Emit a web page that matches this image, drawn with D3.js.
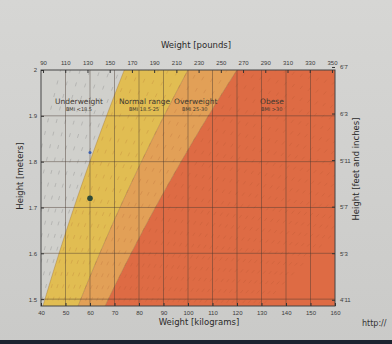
<!DOCTYPE html>
<html><head><meta charset="utf-8">
<script src="https://cdn.jsdelivr.net/npm/d3@7"></script>
<style>
html,body{margin:0;padding:0;background:#cfcfcd;}
svg{display:block;font-family:"DejaVu Sans",sans-serif;}
</style></head>
<body><svg id="c" width="392" height="344"></svg>
<script>
// ---- data ----
const categories = ["Underweight","Normal range","Overweight","Obese"];
const bandText = ["BMI <18.5","BMI 18.5-25","BMI 25-30","BMI >30"];
const bmiBounds = [0, 18.5, 25, 30, 200];
const bandColors = ["#d0d0cc","#e1bd52","#e2a057","#de6b44"];
const kgTicks = [40,50,60,70,80,90,100,110,120,130,140,150,160];
const lbTicks = [90,110,130,150,170,190,210,230,250,270,290,310,330,350];
const mTicks = [1.5,1.6,1.7,1.8,1.9,2];
const mLabels = ["1.5","1.6","1.7","1.8","1.9","2"];
const inchTicks = [59,63,67,71,75,79];
const inchLabels = ["4'11","5'3","5'7","5'11","6'3","6'7"];
const isoBmi = d3.range(12, 60, 1);
const people = [{kg:60,h:1.82,r:1.5,c:"#3a5fb0"},{kg:60,h:1.72,r:2.8,c:"#2f4a38"}];
const labelAnchorKg = [55.5, 71.8, 94.3, 129.4];

// ---- layout ----
const svg = d3.select("#c");
const L=41,R=335,T=70,B=306;
const x = d3.scaleLinear([40,160],[L,R]);
const y = d3.scaleLinear([1.485,2.0],[B,T]);
const xlb = d3.scaleLinear([40/0.453592,160/0.453592],[L,R]);

const defs = svg.append("defs");
const g0 = defs.append("linearGradient").attr("id","bg").attr("x1",0).attr("y1",0).attr("x2",0).attr("y2",1);
g0.append("stop").attr("offset","0%").attr("stop-color","#d6d6d4");
g0.append("stop").attr("offset","100%").attr("stop-color","#cacac8");
svg.append("rect").attr("width",392).attr("height",344).attr("fill","url(#bg)");
svg.append("rect").attr("x",0).attr("y",340).attr("width",392).attr("height",4).attr("fill","#1c2430");

defs.append("clipPath").attr("id","clip").append("rect")
  .attr("x",L).attr("y",T).attr("width",R-L).attr("height",B-T);

const plot = svg.append("g").attr("clip-path","url(#clip)");
const hs = d3.range(1.47, 2.011, 0.005);

bmiBounds.slice(0,-1).forEach((lo,i)=>{
  const hi = bmiBounds[i+1];
  const area = d3.area().y(h=>y(h))
    .x0(h=>x(lo*h*h)).x1(h=>x(Math.min(hi*h*h,170)));
  plot.append("path").datum(hs).attr("d",area).attr("fill",bandColors[i]);
});

// BMI iso-lines (dashed)
isoBmi.forEach(b=>{
  const line = d3.line().x(h=>x(b*h*h)).y(h=>y(h));
  plot.append("path").datum(hs).attr("d",line).attr("fill","none")
    .attr("stroke", b<18.5 ? "#8a8a88" : "#9a4a2a").attr("stroke-opacity", b<18.5?0.55:0.25)
    .attr("stroke-width",0.7).attr("stroke-dasharray","4,9");
});

// band boundary lines
[18.5,25,30].forEach(b=>{
  plot.append("path").datum(hs).attr("d",d3.line().x(h=>x(b*h*h)).y(h=>y(h)))
    .attr("fill","none").attr("stroke","#9a6a2a").attr("stroke-opacity",0.45).attr("stroke-width",0.8);
});

// grid
plot.selectAll(".vg").data(kgTicks.slice(1,-1)).enter().append("line")
  .attr("x1",d=>x(d)).attr("x2",d=>x(d)).attr("y1",T).attr("y2",B)
  .attr("stroke","#4a3a30").attr("stroke-opacity",0.45).attr("stroke-width",1);
plot.selectAll(".hg").data(mTicks.slice(0,-1)).enter().append("line")
  .attr("y1",d=>y(d)).attr("y2",d=>y(d)).attr("x1",L).attr("x2",R)
  .attr("stroke","#4a3a30").attr("stroke-opacity",0.45).attr("stroke-width",1);

// frame
svg.append("rect").attr("x",L).attr("y",T).attr("width",R-L).attr("height",B-T)
  .attr("fill","none").attr("stroke","#444").attr("stroke-width",1);

// people
svg.selectAll(".pt").data(people).enter().append("circle")
  .attr("cx",d=>x(d.kg)).attr("cy",d=>y(d.h)).attr("r",d=>d.r).attr("fill",d=>d.c);

// axes
const fs = "6px", tc = "#3a3a3a";
const axB = svg.append("g").attr("transform",`translate(0,${B})`)
  .call(d3.axisBottom(x).tickValues(kgTicks).tickFormat(d3.format("d")).tickSize(-3).tickPadding(5));
const axT = svg.append("g").attr("transform",`translate(0,${T})`)
  .call(d3.axisTop(xlb).tickValues(lbTicks).tickFormat(d3.format("d")).tickSize(-3).tickPadding(5));
const axL = svg.append("g").attr("transform",`translate(${L},0)`)
  .call(d3.axisLeft(y).tickValues(mTicks).tickFormat((d,i)=>mLabels[i]).tickSize(-3).tickPadding(4));
const yin = d3.scaleLinear([1.485/0.0254,2.0/0.0254],[B,T]);
const axR = svg.append("g").attr("transform",`translate(${R},0)`)
  .call(d3.axisRight(yin).tickValues(inchTicks).tickFormat((d,i)=>inchLabels[i]).tickSize(-3).tickPadding(5));
[axB,axT,axL,axR].forEach(a=>{
  a.select(".domain").remove();
  a.selectAll("line").attr("stroke","#333");
  a.selectAll("text").attr("fill",tc).style("font-size",fs);
});

// titles
const ts = "8.5px";
svg.append("text").attr("x",196).attr("y",48).attr("text-anchor","middle").style("font-size",ts).attr("fill","#2a2a2a").text("Weight [pounds]");
svg.append("text").attr("x",199).attr("y",325).attr("text-anchor","middle").style("font-size",ts).attr("fill","#2a2a2a").text("Weight [kilograms]");
svg.append("text").attr("transform","translate(23,176) rotate(-90)").attr("text-anchor","middle").style("font-size",ts).attr("fill","#2a2a2a").text("Height [meters]");
svg.append("text").attr("transform","translate(359,169) rotate(-90)").attr("text-anchor","middle").style("font-size",ts).attr("fill","#2a2a2a").text("Height [feet and inches]");
svg.append("text").attr("x",362).attr("y",326).style("font-size","8px").attr("fill","#333").text("http://");

// category labels
categories.forEach((c,i)=>{
  const anchor = i===0 ? "middle" : "start";
  const gx = x(labelAnchorKg[i]);
  svg.append("text").attr("x",gx).attr("y",y(1.932)+3).attr("text-anchor",anchor)
    .style("font-size","7.5px").attr("fill","#403830").text(c);
  const bx = i===0 ? gx : gx + (i===1?10:(i===2?8:1));
  svg.append("text").attr("x",bx).attr("y",y(1.915)+2).attr("text-anchor",anchor)
    .style("font-size","5px").attr("fill","#403830").text(bandText[i]);
});
</script></body></html>
